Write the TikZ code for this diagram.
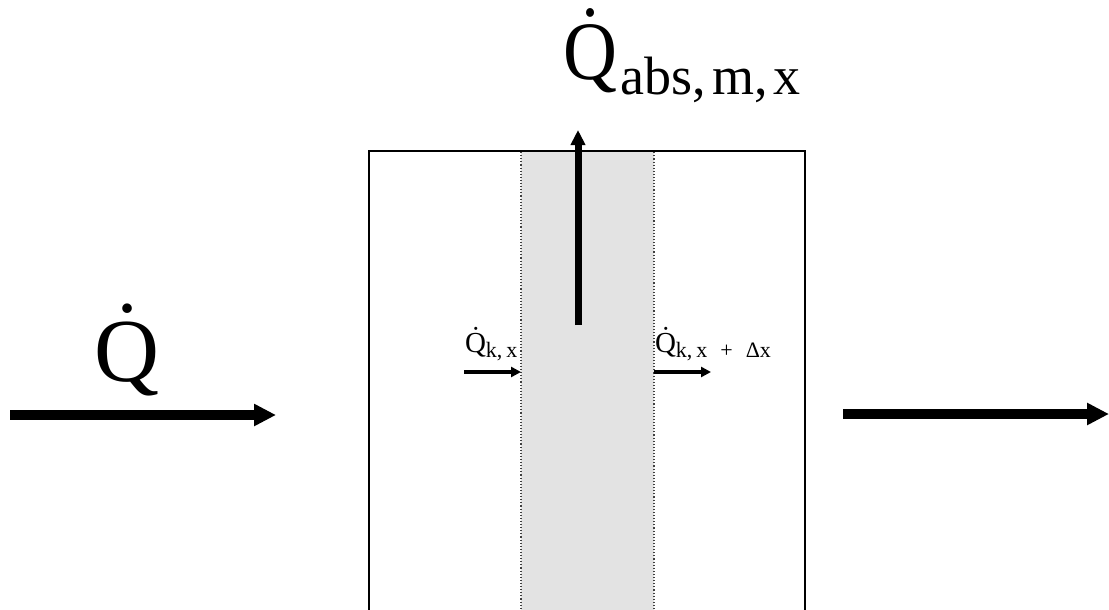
\documentclass[tikz,border=0pt]{standalone}
\usepackage{fontspec}
\setmainfont{Liberation Serif}
\usetikzlibrary{arrows.meta}
\begin{document}
\begin{tikzpicture}[x=1pt,y=-1pt,
  lbl/.style={inner sep=0pt,outer sep=0pt,anchor=base west},
  bigarrow/.style={line width=10.5pt,-{Triangle[length=22pt,width=21pt]}},
  midarrow/.style={line width=7pt,-{Triangle[length=15pt,width=14pt]}},
  smallarrow/.style={line width=4.5pt,-{Triangle[length=10pt,width=10pt]}},
  wall/.style={line width=2.6pt},
  strip/.style={draw=black!75,dotted,line width=1.1pt}]
\useasboundingbox (0,0) rectangle (1109,610);
% strip
\fill[black!11] (521,151) rectangle (654,615);
\draw[strip] (521,615) -- (521,151) -- (654,151) -- (654,615);
% wall box
\draw[wall] (369,615) -- (369,151) -- (805,151) -- (805,615);
% coordinates
\coordinate (inA) at (10,415);
\coordinate (inB) at (276,415);
\coordinate (outA) at (843,414);
\coordinate (outB) at (1109,414);
\coordinate (upA) at (578,325);
\coordinate (upB) at (578,130);
\coordinate (kA) at (464,372);
\coordinate (kB) at (521,372);
\coordinate (kdA) at (654,372);
\coordinate (kdB) at (711,372);
% arrows
\draw[bigarrow] (inA) -- (inB);
\draw[bigarrow] (outA) -- (outB);
\draw[midarrow] (upA) -- (upB);
\draw[smallarrow] (kA) -- (kB);
\draw[smallarrow] (kdA) -- (kdB);
% labels
\node[lbl] (bigQ) at (94,381) {\fontsize{90}{90}\selectfont\.{Q}};
\node[lbl] (topQ) at (563,80) {\scalebox{0.9}[1]{\fontsize{83}{83}\selectfont\.{Q}}\hspace{4pt}\raisebox{-15pt}{\fontsize{54}{54}\selectfont abs,\hspace{6pt}m,\hspace{6pt}x}};
\node[lbl] (lQ) at (465,352) {\fontsize{29}{29}\selectfont\.{Q}\raisebox{-5pt}{\fontsize{22}{22}\selectfont k,\hspace{4pt}x}};
\node[lbl] (rQ) at (655,352) {\fontsize{29}{29}\selectfont\.{Q}\raisebox{-5pt}{\fontsize{22}{22}\selectfont k,\hspace{4pt}x\hspace{13pt}+\hspace{13pt}Δx}};
\end{tikzpicture}
\end{document}
